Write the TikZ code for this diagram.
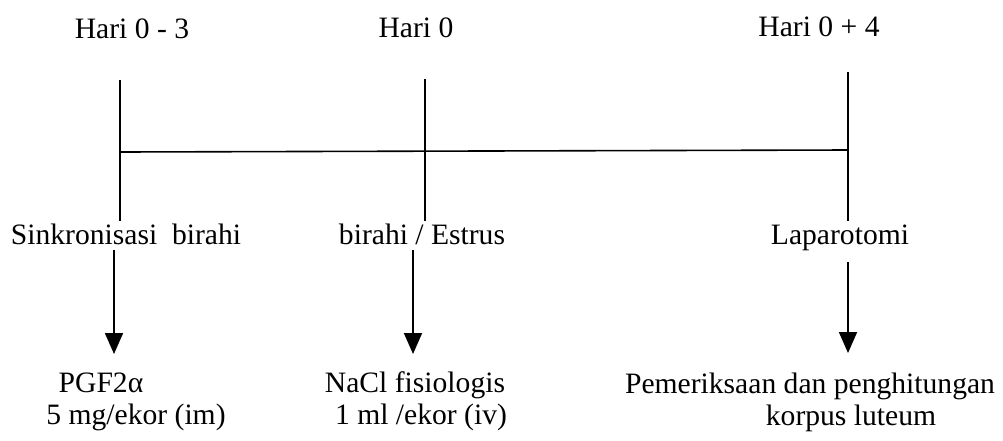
\documentclass[tikz,border=0pt]{standalone}
\usepackage{fontspec}
\setmainfont{Liberation Serif}
\usetikzlibrary{arrows.meta}
\tikzset{
  lbl/.style={anchor=base, inner sep=0pt, font=\fontsize{29.6}{34}\selectfont},
  tick/.style={line width=1.8pt},
  axis/.style={line width=1.6pt},
  flow/.style={line width=1.8pt, -{Triangle[width=18pt,length=21pt]}}
}
\begin{document}
\begin{tikzpicture}[x=1pt,y=-1pt]
\useasboundingbox (0,0) rectangle (1003,440);
% headings
\node[lbl] (h1) at (132,38) {Hari 0 - 3};
\node[lbl] (h2) at (416,37) {Hari 0};
\node[lbl] (h3) at (819,36) {Hari 0 + 4};
% events
\node[lbl] (e1) at (126,244) {Sinkronisasi\ \ birahi};
\node[lbl] (e2) at (422,244) {birahi / Estrus};
\node[lbl] (e3) at (840,244) {Laparotomi};
% results
\node[lbl] (r1a) at (101,392) {PGF2α};
\node[lbl] (r1b) at (136,424) {5 mg/ekor (im)};
\node[lbl] (r2a) at (415,392) {NaCl fisiologis};
\node[lbl] (r2b) at (421,424) {1 ml /ekor (iv)};
\node[lbl] (r3a) at (810,393) {Pemeriksaan dan penghitungan};
\node[lbl] (r3b) at (851,425) {korpus luteum};
% timeline
\coordinate (t1a) at (120,80);  \coordinate (t1b) at (120,221);
\coordinate (t2a) at (425,79);  \coordinate (t2b) at (425,221);
\coordinate (t3a) at (848,72);  \coordinate (t3b) at (848,221);
\coordinate (m1) at (120,152);  \coordinate (m3) at (848,150);
\draw[tick] (t1a) -- (t1b);
\draw[tick] (t2a) -- (t2b);
\draw[tick] (t3a) -- (t3b);
\draw[axis] (m1) -- (m3);
% arrows
\coordinate (a1s) at (114,250); \coordinate (a1e) at (114,354);
\coordinate (a2s) at (413,250); \coordinate (a2e) at (413,354);
\coordinate (a3s) at (848,262); \coordinate (a3e) at (848,353);
\draw[flow] (a1s) -- (a1e);
\draw[flow] (a2s) -- (a2e);
\draw[flow] (a3s) -- (a3e);
\end{tikzpicture}
\end{document}
